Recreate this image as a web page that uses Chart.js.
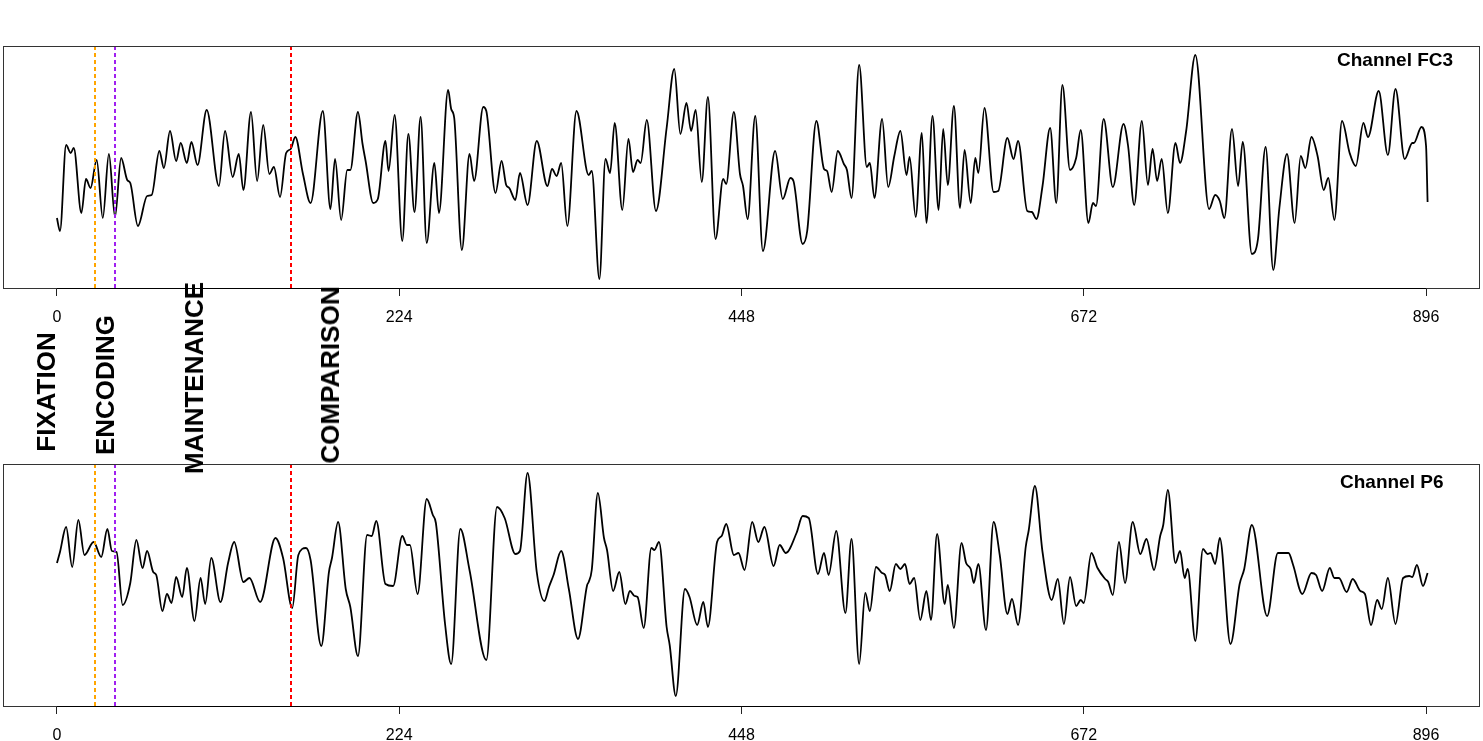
<!DOCTYPE html>
<html>
<head>
<meta charset="utf-8">
<script src="https://cdn.jsdelivr.net/npm/chart.js@4.4.1/dist/chart.umd.min.js"></script>
<style>
  html, body { margin: 0; padding: 0; background: #fff; }
  body { width: 1483px; height: 741px; position: relative; overflow: hidden; }
  canvas { position: absolute; left: 0; }
  #topChart { top: 0; }
  #bottomChart { top: 418px; }
  .phase {
    position: absolute; white-space: nowrap;
    font: bold 26px "Liberation Sans", Arial, sans-serif; line-height: 1; color: #000;
    transform: translate(-50%, -50%) rotate(-90deg);
  }
</style>
</head>
<body>
<canvas id="topChart" width="1483" height="350"></canvas>
<canvas id="bottomChart" width="1483" height="323"></canvas>
<script>
// ---- data ----
const xTicks = [0, 224, 448, 672, 896];
const phaseTimes = [25, 38, 153];
const phaseNames = ['FIXATION', 'ENCODING', 'MAINTENANCE', 'COMPARISON'];
const channelNames = ['Channel FC3', 'Channel P6'];

const fc3Time = [0,2,6,9,11,16,19,22,26,30,34,38,42,46,48,53,59,62,67,70,74,78,81,85,88,92,98,106,110,115,
119,122,127,131,135,139,142,146,150,153,156,161,166,174,179,182,186,190,192,197,200,202,207,210,215,217,221,226,230,234,
238,242,247,250,256,258,260,265,270,273,279,281,287,291,294,296,300,303,308,314,321,324,327,330,334,340,348,350,355,359,
362,365,370,374,377,380,382,386,392,399,404,408,412,415,418,422,426,431,436,438,443,447,449,452,457,462,470,475,480,482,
488,491,497,502,504,507,511,515,517,520,525,530,532,535,540,544,548,552,556,558,562,566,569,573,577,580,583,587,591,594,
598,601,603,607,613,616,622,626,629,635,638,641,645,650,654,658,663,667,670,675,678,680,685,691,698,701,705,710,714,717,
720,723,727,732,735,739,745,754,758,761,764,769,773,776,782,786,791,796,800,805,810,814,817,821,825,829,832,836,841,846,
850,855,858,865,871,876,882,887,888,893,896,897];
const fc3Amp = [-51,-64,22,14,19,-46,-12,-21,7,-51,13,-50,9,-13,-16,-59,-29,-28,16,-1,36,6,24,4,25,2,57,-19,36,-10,
13,-23,55,-14,42,-7,0,-30,14,18,30,-7,-36,56,-42,8,-53,-3,-3,55,23,6,-36,-32,26,-4,52,-74,33,-45,
50,-76,4,-46,77,58,49,-83,13,-14,60,56,-26,6,-18,-21,-33,-6,-38,26,-19,-2,-9,4,-59,56,-8,-4,-112,8,
-6,44,-43,28,-5,7,4,47,-44,39,98,33,64,36,57,-15,70,-72,-12,-17,55,-7,-19,-52,51,-84,16,-32,-11,-14,
-77,-64,46,-2,-4,-25,16,3,-3,-31,102,0,4,-31,48,-20,11,36,-8,10,-50,34,-56,51,-43,38,-18,61,-41,17,
-36,9,-6,59,-25,-24,29,8,26,-44,-45,-52,-19,39,-36,82,-3,9,37,-56,-36,-39,48,-20,43,21,-38,46,-18,18,
-14,8,-46,24,4,36,112,-42,-28,-34,-51,38,-19,25,-87,-72,20,-103,-41,13,-56,11,-1,30,11,-23,-11,-53,46,14,
1,44,30,76,12,78,8,24,24,40,21,-35];

const p6Time = [0,2,6,10,14,18,24,29,33,36,39,43,48,52,56,59,63,65,69,72,75,78,82,85,90,94,97,101,107,112,
116,122,126,133,143,148,154,158,163,166,173,178,180,184,189,192,197,203,206,209,215,220,226,229,231,236,242,246,248,254,
258,264,270,281,288,293,300,303,308,314,319,322,325,330,335,341,347,348,350,354,358,360,364,368,372,375,378,380,384,389,
391,394,399,401,405,411,414,419,423,426,432,435,438,443,446,450,455,459,463,469,473,477,484,488,492,498,502,505,510,516,
520,525,529,532,536,540,542,545,549,552,555,558,561,565,569,572,576,581,583,587,592,595,598,600,603,608,613,617,622,625,
629,634,636,640,645,651,655,659,663,667,670,672,677,681,686,688,691,695,699,704,709,713,718,722,724,727,732,735,738,740,
745,750,753,755,758,761,768,774,777,782,792,799,806,809,815,821,824,828,833,836,839,844,848,853,856,860,864,867,871,876,
881,885,887,890,894,897];
const p6Amp = [22,33,58,18,65,30,43,28,56,34,33,-20,2,45,17,34,13,10,-26,-9,-18,8,-12,17,-36,7,-19,27,-17,22,
43,3,7,-17,47,27,-23,30,37,25,-61,13,27,63,-4,-22,-71,50,49,64,1,-1,49,40,40,-9,86,70,62,-39,
-79,56,15,-75,78,67,31,34,112,13,-16,-2,10,34,-4,-54,0,3,15,92,47,35,-6,13,-19,-6,-11,-12,-43,37,
35,43,-42,-60,-111,-4,-12,-40,-17,-42,43,49,61,30,32,15,63,43,58,19,40,32,52,69,67,11,32,10,54,-28,
46,-79,-8,-26,18,12,10,-6,21,16,21,1,7,-35,-6,-35,51,-19,0,-43,42,22,16,2,21,-45,63,30,-29,-14,
-40,38,55,99,33,-15,6,-39,8,-21,-15,-18,32,17,6,3,-10,43,2,63,31,46,15,49,60,95,22,34,7,16,
-56,36,31,32,21,47,-59,1,16,60,-31,32,32,20,-9,12,10,-6,17,7,7,-7,6,-6,-9,-40,-15,-24,7,-39,
7,9,8,20,-1,12];

// ---- helpers ----
const phaseColors = ['#FFA500', '#A020F0', '#FF0000'];

const panelPlugin = {
  id: 'panelDecor',
  afterDatasetsDraw(chart, args, opts) {
    const { ctx, chartArea: a, scales } = chart;
    const xs = scales.x;
    ctx.save();
    // phase markers
    ctx.lineWidth = 2;
    ctx.setLineDash([4, 3]);
    phaseTimes.forEach((t, i) => {
      const px = Math.round(xs.getPixelForValue(t));
      ctx.strokeStyle = phaseColors[i];
      ctx.beginPath();
      ctx.moveTo(px, a.top);
      ctx.lineTo(px, a.bottom);
      ctx.stroke();
    });
    ctx.setLineDash([]);
    // box
    ctx.lineWidth = 1;
    ctx.strokeStyle = '#333';
    ctx.strokeRect(Math.round(a.left) + 0.5, Math.round(a.top) + 0.5,
                   Math.round(a.right - a.left) - 1, Math.round(a.bottom - a.top));
    // axis line across tick range
    ctx.strokeStyle = '#000';
    ctx.beginPath();
    ctx.moveTo(xs.getPixelForValue(xTicks[0]), Math.round(a.bottom) + 0.5);
    ctx.lineTo(xs.getPixelForValue(xTicks[xTicks.length - 1]), Math.round(a.bottom) + 0.5);
    ctx.stroke();
    // channel label
    ctx.font = 'bold 19px "Liberation Sans", Arial, sans-serif';
    ctx.fillStyle = '#000';
    ctx.textAlign = 'left';
    ctx.textBaseline = 'alphabetic';
    ctx.fillText(opts.text, opts.x, a.top + opts.dy);
    ctx.restore();
  }
};

function makeChart(id, times, amps, label, labelX, labelDy, axisHeight) {
  return new Chart(document.getElementById(id), {
    type: 'line',
    data: {
      datasets: [{
        data: times.map((t, i) => ({ x: t, y: amps[i] })),
        borderColor: '#000',
        borderWidth: 1.8,
        pointRadius: 0,
        fill: false,
        cubicInterpolationMode: 'monotone'
      }]
    },
    options: {
      responsive: false,
      animation: false,
      devicePixelRatio: 1,
      layout: { padding: { left: 3, right: 3, top: 46, bottom: 0 } },
      plugins: {
        legend: { display: false },
        tooltip: { enabled: false },
        panelDecor: { text: label, x: labelX, dy: labelDy }
      },
      scales: {
        x: {
          type: 'linear',
          min: -35.3,
          max: 931.3,
          afterBuildTicks: s => { s.ticks = xTicks.map(v => ({ value: v })); },
          afterFit: s => { s.height = axisHeight; },
          ticks: {
            maxRotation: 0, autoSkip: false, padding: 12, color: '#000',
            font: { family: '"Liberation Sans", Arial, sans-serif', size: 16 },
            callback: v => String(v)
          },
          grid: { drawOnChartArea: false, drawTicks: true, tickLength: 8, color: '#222', lineWidth: 1 },
          border: { display: false }
        },
        y: { display: false, min: -121, max: 121 }
      }
    },
    plugins: [panelPlugin]
  });
}

makeChart('topChart', fc3Time, fc3Amp, channelNames[0], 1337, 20, 62);
makeChart('bottomChart', p6Time, p6Amp, channelNames[1], 1340, 24, 35);

// phase labels (rotated text between panels)
const phaseLabelPos = [[46, 392], [105, 384.5], [194, 378], [329.5, 374.5]];
phaseNames.forEach((name, i) => {
  const d = document.createElement('div');
  d.className = 'phase';
  d.textContent = name;
  d.style.left = phaseLabelPos[i][0] + 'px';
  d.style.top = phaseLabelPos[i][1] + 'px';
  document.body.appendChild(d);
});
</script>
</body>
</html>
